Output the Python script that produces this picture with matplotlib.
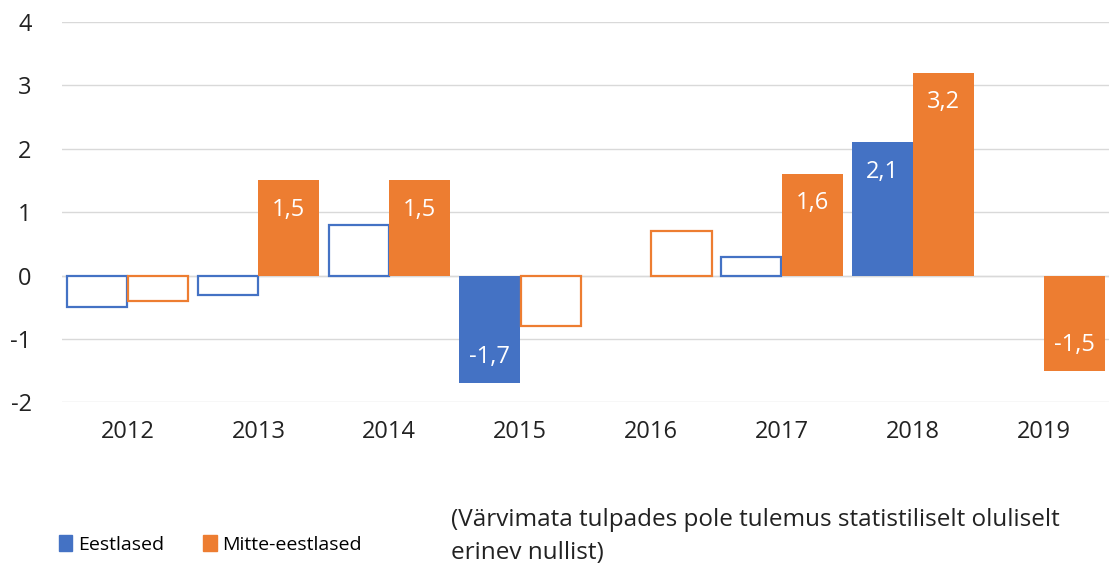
import numpy as np
import matplotlib.pyplot as plt
from matplotlib.patches import Patch

years = ['2012', '2013', '2014', '2015', '2016', '2017', '2018', '2019']
eestlased = [-0.5, -0.3, 0.8, -1.7, np.nan, 0.3, 2.1, np.nan]
mitte_eestlased = [-0.4, 1.5, 1.5, -0.8, 0.7, 1.6, 3.2, -1.5]
# True = statistically significant (filled bar)
eest_sig = [False, False, False, True, False, False, True, False]
mitte_sig = [False, True, True, False, False, True, True, True]

blue = '#4472C4'
orange = '#ED7D31'
plt.rcParams['font.family'] = ['Open Sans', 'DejaVu Sans']
plt.rcParams['axes.unicode_minus'] = False

fig = plt.figure(figsize=(11.09, 5.65), dpi=100)
ax = fig.add_axes([0.056, 0.288, 0.944, 0.673])

x = np.arange(len(years))
w = 0.466

def draw(vals, sig, off, col):
    for xi, v, s in zip(x, vals, sig):
        if np.isnan(v):
            continue
        if s:
            ax.bar(xi + off, v, w, color=col, zorder=3)
            lab = f'{v:.1f}'.replace('.', ',')
            if v > 0:
                ax.text(xi + off, v - 0.27, lab, ha='center', va='top',
                        color='white', fontsize=17)
            else:
                ax.text(xi + off, v + 0.22, lab, ha='center', va='bottom',
                        color='white', fontsize=17)
        else:
            ax.bar(xi + off, v, w * 0.985, facecolor='white', edgecolor=col,
                   linewidth=1.6, zorder=3)

draw(eestlased, eest_sig, -w / 2, blue)
draw(mitte_eestlased, mitte_sig, w / 2, orange)

ax.set_xlim(-0.5, len(years) - 0.5)
ax.set_ylim(-2, 4)
ax.set_yticks(range(-2, 5))
ax.set_xticks(x)
ax.set_xticklabels(years)
ax.tick_params(axis='both', length=0, labelsize=17, colors='#222222')
ax.tick_params(axis='x', pad=13)
ax.tick_params(axis='y', pad=22)
ax.grid(axis='y', color='#D9D9D9', linewidth=1, zorder=0)
ax.axhline(0, color='#D9D9D9', linewidth=1, zorder=1)
for sp in ax.spines.values():
    sp.set_visible(False)

handles = [Patch(color=blue, label='Eestlased'),
           Patch(color=orange, label='Mitte-eestlased')]
fig.legend(handles=handles, loc='center left', bbox_to_anchor=(0.037, 0.036),
           ncol=2, frameon=False, fontsize=14, handlelength=0.7,
           handleheight=0.9, handletextpad=0.3, columnspacing=2.0)

fig.text(0.407, 0.05, '(Värvimata tulpades pole tulemus statistiliselt oluliselt\nerinev nullist)',
         fontsize=17.5, va='center', ha='left', color='#222222', linespacing=1.5)

fig.savefig('out.png', dpi=100)
